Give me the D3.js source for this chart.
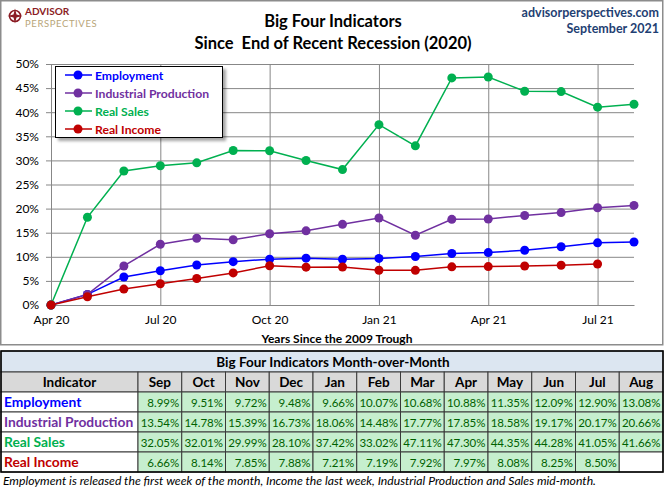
<!DOCTYPE html>
<html>
<head>
<meta charset="utf-8">
<script src="https://cdn.jsdelivr.net/npm/d3@7"></script>
<style>
  body { margin: 0; background: #fff; }
  svg { display: block; }
  text { font-family: Lato, "Open Sans", sans-serif; }
</style>
</head>
<body>
<svg id="chart" width="667" height="488"></svg>
<script>
// ---- data ----
const months = ["Apr 20", "May 20", "Jun 20", "Jul 20", "Aug 20", "Sep 20", "Oct 20", "Nov 20",
  "Dec 20", "Jan 21", "Feb 21", "Mar 21", "Apr 21", "May 21", "Jun 21", "Jul 21", "Aug 21"];
const xTickLabels = ["Apr 20", "Jul 20", "Oct 20", "Jan 21", "Apr 21", "Jul 21"];
const yTicks = [0, 5, 10, 15, 20, 25, 30, 35, 40, 45, 50];
const tableMonths = ["Sep", "Oct", "Nov", "Dec", "Jan", "Feb", "Mar", "Apr", "May", "Jun", "Jul", "Aug"];

const seriesNames = ["Employment", "Industrial Production", "Real Sales", "Real Income"];
const employment = [0, 2.2, 5.8, 7.1, 8.3, 8.99, 9.51, 9.72, 9.48, 9.66, 10.07, 10.68, 10.88, 11.35, 12.09, 12.90, 13.08];
const industrial = [0, 2.2, 8.1, 12.6, 13.85, 13.54, 14.78, 15.39, 16.73, 18.06, 14.48, 17.77, 17.85, 18.58, 19.17, 20.17, 20.66];
const realSales = [0, 18.2, 27.8, 28.9, 29.5, 32.05, 32.01, 29.99, 28.10, 37.42, 33.02, 47.11, 47.30, 44.35, 44.28, 41.05, 41.66];
const realIncome = [0, 1.7, 3.3, 4.4, 5.5, 6.66, 8.14, 7.85, 7.88, 7.21, 7.19, 7.92, 7.97, 8.08, 8.25, 8.50, null];

const seriesValues = [employment, industrial, realSales, realIncome];
const seriesColors = ["#0000ff", "#7030a0", "#00b050", "#c00000"];

const svg = d3.select("#chart");

// defs: legend shadow
const defs = svg.append("defs");
const shadow = defs.append("filter").attr("id", "shadow").attr("x", "-10%").attr("y", "-10%")
  .attr("width", "130%").attr("height", "140%");
shadow.append("feDropShadow").attr("dx", 3).attr("dy", 3).attr("stdDeviation", 1.5)
  .attr("flood-color", "#000").attr("flood-opacity", 0.35);

// 1. chart frame
svg.append("rect")
  .attr("x", 0.75).attr("y", 0.75).attr("width", 662).attr("height", 344)
  .attr("fill", "#fff").attr("stroke", "#8c8c8c").attr("stroke-width", 1.5);

// 2. logo + titles
const logo = svg.append("g");
logo.append("circle").attr("cx", 15).attr("cy", 16).attr("r", 5.5)
  .attr("fill", "none").attr("stroke", "#8b1c24").attr("stroke-width", 1.6);
logo.append("path").attr("d", "M15,8.5 L16.5,14.5 L22.5,16 L16.5,17.5 L15,23.5 L13.5,17.5 L7.5,16 L13.5,14.5 Z")
  .attr("fill", "#8b1c24");
logo.append("text").attr("x", 25).attr("y", 15).text("ADVISOR")
  .style("font-size", "10px").style("font-weight", "bold").style("fill", "#8b1c24");
logo.append("text").attr("x", 25).attr("y", 27).text("PERSPECTIVES")
  .style("font-size", "9.5px").style("letter-spacing", "0.6px").style("fill", "#b8a578");

svg.append("text").attr("x", 333).attr("y", 27).attr("text-anchor", "middle")
  .text("Big Four Indicators")
  .style("font-size", "16.5px").style("font-weight", "bold");
svg.append("text").attr("x", 333).attr("y", 49).attr("text-anchor", "middle")
  .attr("xml:space", "preserve")
  .text("Since  End of Recent Recession (2020)")
  .style("font-size", "16.5px").style("font-weight", "bold");

svg.append("text").attr("x", 659).attr("y", 17).attr("text-anchor", "end")
  .text("advisorperspectives.com")
  .style("font-size", "12.5px").style("font-weight", "bold").style("fill", "#1f3f73");
svg.append("text").attr("x", 659).attr("y", 33).attr("text-anchor", "end")
  .text("September 2021")
  .style("font-size", "12.5px").style("font-weight", "bold").style("fill", "#1f3f73");

// 3. scales + grid
const x = d3.scalePoint().domain(months).range([51, 634]);
const y = d3.scaleLinear().domain([0, 50]).range([305, 64]);
const gridColor = "#878787";

const yGrid = svg.append("g").attr("transform", "translate(51,0)")
  .call(d3.axisLeft(y).tickValues(yTicks).tickSize(-583).tickFormat(""));
yGrid.select(".domain").remove();
yGrid.selectAll("line").attr("stroke", gridColor);

const xGrid = svg.append("g").attr("transform", "translate(0,305)")
  .call(d3.axisBottom(x).tickValues(xTickLabels).tickSize(-241).tickFormat(""));
xGrid.select(".domain").remove();
xGrid.selectAll("line").attr("stroke", gridColor);

const yAxis = svg.append("g").attr("transform", "translate(51,0)")
  .call(d3.axisLeft(y).tickValues(yTicks).tickSize(5).tickPadding(7).tickFormat(d => d + "%"));
yAxis.select(".domain").attr("stroke", gridColor);
yAxis.selectAll("line").attr("stroke", gridColor);
yAxis.selectAll("text").style("font-size", "12px").style("fill", "#000");

const xAxis = svg.append("g").attr("transform", "translate(0,305)")
  .call(d3.axisBottom(x).tickValues(xTickLabels).tickSize(0).tickPadding(10));
xAxis.select(".domain").attr("stroke", gridColor);
xAxis.selectAll("text").style("font-size", "12px").style("fill", "#000");

svg.append("text").attr("x", 337).attr("y", 343).attr("text-anchor", "middle")
  .text("Years Since the 2009 Trough")
  .style("font-size", "12px").style("font-weight", "bold");

// 4. lines + markers
const line = d3.line()
  .defined(d => d != null)
  .x((d, i) => x(months[i]))
  .y(d => y(d));

seriesValues.forEach((vals, s) => {
  svg.append("path").datum(vals)
    .attr("d", line)
    .attr("fill", "none")
    .attr("stroke", seriesColors[s])
    .attr("stroke-width", 1.5);
  svg.append("g").selectAll("circle")
    .data(vals.map((v, i) => ({ v, m: months[i] })).filter(d => d.v != null))
    .join("circle")
    .attr("cx", d => x(d.m))
    .attr("cy", d => y(d.v))
    .attr("r", 4.5)
    .attr("fill", seriesColors[s]);
});

// 5. legend
const legend = svg.append("g");
legend.append("rect").attr("x", 55.5).attr("y", 66.5).attr("width", 167).attr("height", 71)
  .attr("fill", "#fff").attr("stroke", "#000").attr("stroke-width", 1)
  .attr("filter", "url(#shadow)");
seriesNames.forEach((name, s) => {
  const ly = 75 + s * 18;
  legend.append("line").attr("x1", 65).attr("x2", 92).attr("y1", ly).attr("y2", ly)
    .attr("stroke", seriesColors[s]).attr("stroke-width", 1.5);
  legend.append("circle").attr("cx", 78).attr("cy", ly).attr("r", 4.5).attr("fill", seriesColors[s]);
  legend.append("text").attr("x", 95).attr("y", ly + 4.5).text(name)
    .style("font-size", "12.2px").style("font-weight", "bold").style("fill", seriesColors[s]);
});

// 6. month-over-month table
const tLeft = 1, tRight = 663, labelW = 138;
const col = d3.scaleBand().domain(tableMonths).range([labelW, tRight]);
const row = d3.scaleBand().domain(seriesNames).range([392, 472]);
const table = svg.append("g");
const cellStroke = "#3a3a3a";

table.append("rect").attr("x", tLeft).attr("y", 351).attr("width", tRight - tLeft).attr("height", 21)
  .attr("fill", "#dce6f1").attr("stroke", cellStroke);
table.append("text").attr("x", 333).attr("y", 367).attr("text-anchor", "middle")
  .text("Big Four Indicators Month-over-Month")
  .style("font-size", "13.5px").style("font-weight", "bold");

table.append("rect").attr("x", tLeft).attr("y", 372).attr("width", labelW - tLeft).attr("height", 20)
  .attr("fill", "#d9d9d9").attr("stroke", cellStroke);
table.append("text").attr("x", (tLeft + labelW) / 2).attr("y", 387).attr("text-anchor", "middle")
  .text("Indicator").style("font-size", "13.5px").style("font-weight", "bold");
tableMonths.forEach(m => {
  table.append("rect").attr("x", col(m)).attr("y", 372).attr("width", col.bandwidth()).attr("height", 20)
    .attr("fill", "#d9d9d9").attr("stroke", cellStroke);
  table.append("text").attr("x", col(m) + col.bandwidth() / 2).attr("y", 387).attr("text-anchor", "middle")
    .text(m).style("font-size", "13.5px").style("font-weight", "bold");
});

seriesNames.forEach((name, s) => {
  const ry = row(name);
  table.append("rect").attr("x", tLeft).attr("y", ry).attr("width", labelW - tLeft).attr("height", row.bandwidth())
    .attr("fill", "#fff").attr("stroke", cellStroke);
  table.append("text").attr("x", 4).attr("y", ry + 15).text(name)
    .style("font-size", "13.8px").style("font-weight", "bold").style("fill", seriesColors[s]);
  tableMonths.forEach((m, j) => {
    const v = seriesValues[s][5 + j];
    table.append("rect").attr("x", col(m)).attr("y", ry).attr("width", col.bandwidth()).attr("height", row.bandwidth())
      .attr("fill", v == null ? "#fff" : "#c6efce").attr("stroke", cellStroke);
    if (v != null) {
      table.append("text").attr("x", col(m) + col.bandwidth() - 2.5).attr("y", ry + 14.5)
        .attr("text-anchor", "end").text(v.toFixed(2) + "%")
        .style("font-size", "11.5px").style("fill", "#006100");
    }
  });
});

table.append("rect").attr("x", tLeft).attr("y", 351).attr("width", tRight - tLeft).attr("height", 121)
  .attr("fill", "none").attr("stroke", "#000").attr("stroke-width", 1.5);

svg.append("text").attr("x", 3).attr("y", 485)
  .text("Employment is released the first week of the month, Income the last week, Industrial Production and Sales mid-month.")
  .style("font-size", "12.2px").style("font-style", "italic");
</script>
</body>
</html>
